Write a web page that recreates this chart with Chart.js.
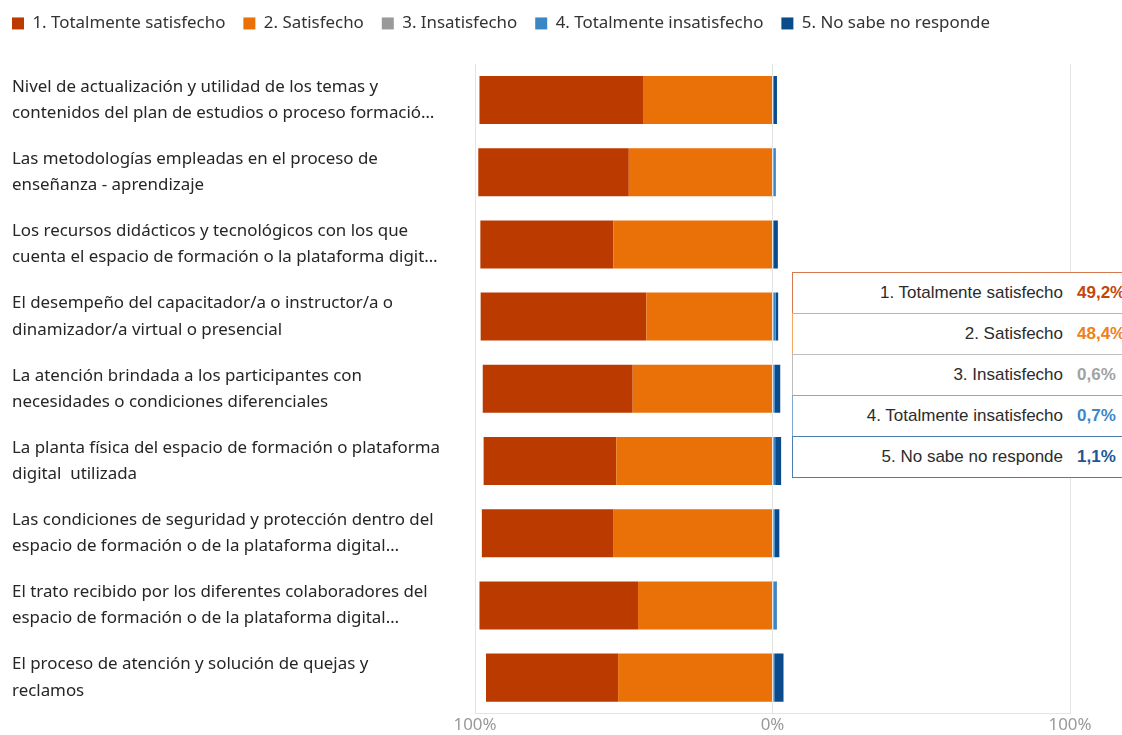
<!DOCTYPE html>
<html>
<head>
<meta charset="utf-8">
<script src="https://cdn.jsdelivr.net/npm/chart.js@4.4.1/dist/chart.umd.min.js"></script>
<style>
  html, body { margin: 0; padding: 0; background: #fff; overflow: hidden; }
  #wrap { position: relative; width: 1122px; height: 735px; overflow: hidden; }
  #tip { position: absolute; left: 792px; top: 273px; width: 380px;
    font-family: "Liberation Sans", Arial, sans-serif; font-size: 17px; color: #2b2b2b; }
  .row { display: flex; align-items: center; box-sizing: border-box; height: 42px; margin-top: -1px; background: #fff; }
  .lab { width: 270px; text-align: right; }
  .val { margin-left: 14px; font-weight: bold; }
</style>
</head>
<body>
<div id="wrap">
  <canvas id="myChart" width="1122" height="735"></canvas>
  <div id="tip"></div>
</div>
<script>
// data
const categories = [
  ['Nivel de actualización y utilidad de los temas y', 'contenidos del plan de estudios o proceso formació…'],
  ['Las metodologías empleadas en el proceso de', 'enseñanza - aprendizaje'],
  ['Los recursos didácticos y tecnológicos con los que', 'cuenta el espacio de formación o la plataforma digit…'],
  ['El desempeño del capacitador/a o instructor/a o', 'dinamizador/a virtual o presencial'],
  ['La atención brindada a los participantes con', 'necesidades o condiciones diferenciales'],
  ['La planta física del espacio de formación o plataforma', 'digital  utilizada'],
  ['Las condiciones de seguridad y protección dentro del', 'espacio de formación o de la plataforma digital…'],
  ['El trato recibido por los diferentes colaboradores del', 'espacio de formación o de la plataforma digital…'],
  ['El proceso de atención y solución de quejas y', 'reclamos']
]
const seriesNames = ['1. Totalmente satisfecho', '2. Satisfecho', '3. Insatisfecho', '4. Totalmente insatisfecho', '5. No sabe no responde']
const totalSatisfecho   = [55.2, 50.6, 44.7, 55.7, 50.4, 44.6, 44.1, 53.3, 44.4]
const satisfecho        = [43.3, 48.3, 53.5, 42.4, 47.0, 52.5, 53.6, 45.2, 51.9]
const insatisfecho      = [0.2, 0.3, 0.2, 0.3, 0.5, 0.3, 0.3, 0.3, 0.3]
const totalInsatisfecho = [0.3, 0.6, 0.3, 0.8, 0.3, 0.6, 0.5, 1.0, 0.3]
const noSabe            = [1.0, 0.2, 1.3, 0.8, 1.8, 2.0, 1.5, 0.2, 3.1]
const xTicks = [-100, 0, 100]
const tooltipValues = ['49,2%', '48,4%', '0,6%', '0,7%', '1,1%']

const colors = ['#BA3A00', '#E97108', '#9A9A9A', '#3B86C6', '#0B4A8B']
const tipBorders = ['#D77A50', '#F3A862', '#BDBDBD', '#7DAAD5', '#4F7EB2']
const tipText = ['#C3470C', '#F08019', '#A3A3A3', '#3C88C8', '#1C5796']

const fontFamily = '"Noto Sans", "Open Sans", sans-serif'
let fontSize = 16

// fit label font so the widest line is about 429px like the original
const measure = document.createElement('canvas').getContext('2d')
const widestAt = (size) => {
  measure.font = `${size}px ${fontFamily}`
  let w = 0
  categories.forEach(c => c.forEach(l => { w = Math.max(w, measure.measureText(l).width) }))
  return w
}
fontSize = Math.round(16 * 429 / widestAt(16) * 10) / 10
const labelLeft = 12
const plotLeft = 475

const ctx = document.getElementById('myChart')
const neg = arr => arr.map(v => -v)

// nudge the legend up/left so its first box sits at the page edge like the original
const legendShift = {
  id: 'legendShift',
  afterLayout: (c) => {
    c.legend.left -= 18
    c.legend.top -= 22
  }
}

const chart = new Chart(ctx, {
  type: 'bar',
  data: {
    labels: categories,
    datasets: [
      { label: seriesNames[0], data: neg(totalSatisfecho), backgroundColor: colors[0], order: 1 },
      { label: seriesNames[1], data: neg(satisfecho), backgroundColor: colors[1], order: 0 },
      { label: seriesNames[2], data: insatisfecho, backgroundColor: colors[2], order: 2 },
      { label: seriesNames[3], data: totalInsatisfecho, backgroundColor: colors[3], order: 3 },
      { label: seriesNames[4], data: noSabe, backgroundColor: colors[4], order: 4 }
    ]
  },
  plugins: [legendShift],
  options: {
    indexAxis: 'y',
    responsive: false,
    animation: false,
    events: [],
    layout: { padding: { left: labelLeft, right: 52, top: 19, bottom: -1 } },
    datasets: { bar: { categoryPercentage: 1, barPercentage: 0.665 } },
    plugins: {
      tooltip: { enabled: false },
      legend: {
        position: 'top',
        align: 'start',
        labels: {
          boxWidth: 12,
          boxHeight: 12,
          padding: 18,
          color: '#333',
          font: { family: fontFamily, size: fontSize },
          sort: (a, b) => a.datasetIndex - b.datasetIndex
        }
      }
    },
    scales: {
      x: {
        stacked: true,
        min: -100,
        max: 100,
        afterBuildTicks: scale => { scale.ticks = xTicks.map(v => ({ value: v })) },
        ticks: {
          color: '#999',
          padding: 1,
          font: { family: fontFamily, size: fontSize },
          callback: v => Math.abs(v) + '%'
        },
        grid: { color: '#e4e4e4', drawTicks: false },
        border: { color: '#e4e4e4' }
      },
      y: {
        stacked: true,
        grid: { display: false, drawTicks: false },
        border: { display: false },
        afterFit: scale => {
          scale.width = plotLeft - labelLeft
          scale.paddingTop = 0
          scale.paddingBottom = 0
        },
        ticks: {
          crossAlign: 'far',
          color: '#262626',
          font: { family: fontFamily, size: fontSize, lineHeight: 1.55 }
        }
      }
    }
  }
})

// static hover box
const tip = document.getElementById('tip')
tip.innerHTML = seriesNames.map((name, i) => `
  <div class="row" style="border:1px solid ${tipBorders[i]}">
    <span class="lab">${name}</span>
    <span class="val" style="color:${tipText[i]}">${tooltipValues[i]}</span>
  </div>
`).join('')
</script>
</body>
</html>
